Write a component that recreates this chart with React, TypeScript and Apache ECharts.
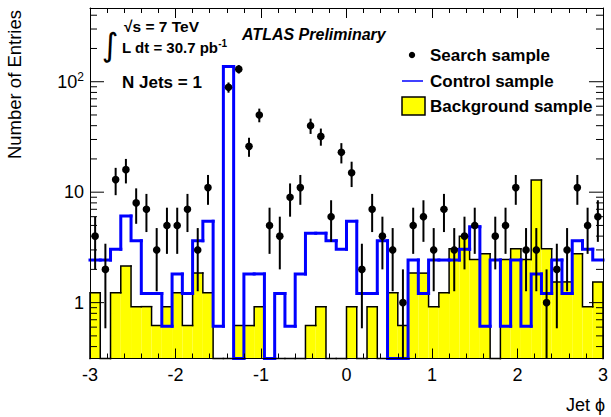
import React, { useEffect, useRef } from 'react';
import * as echarts from 'echarts';

const X_MIN = -3;
const X_MAX = 3;
const BIN_WIDTH = 0.12;
const Y_MIN = 0.312;
const Y_MAX = 465;

// Search sample: entries per bin (points with sqrt(N) error bars)
const searchCounts = [4, 2, 13, 16, 8, 7, 3, 5, 5, 7, 3, 11, 0, 89, 130, 26, 50, 5, 4, 9, 11, 40, 32, 6, 23, 15, 2, 7, 4, 3, 1, 5, 6, 3, 7, 3, 4, 5, 0, 4, 5, 11, 3, 3, 1, 2, 3, 11, 5, 6];
// Control sample (blue line)
const controlSample = [2.43, 2.43, 3.04, 6.07, 3.64, 1.21, 1.21, 0.61, 1.82, 1.21, 3.64, 5.46, 0.61, 137, 0, 1.82, 1.82, 0, 1.21, 0.61, 1.82, 4.25, 4.25, 3.64, 3.04, 5.46, 1.21, 1.21, 3.64, 0, 0, 2.43, 1.21, 2.43, 2.43, 2.43, 3.04, 4.86, 0.61, 2.43, 0.61, 2.43, 0.61, 1.82, 1.21, 2.43, 1.21, 3.64, 3.04, 2.43];
// Background sample (yellow filled)
const backgroundSample = [1.23, 0, 1.23, 2.15, 0.92, 0.92, 0.62, 0.92, 1.23, 0.62, 1.85, 1.23, 0, 0, 0.62, 0.62, 0.92, 0, 0, 0, 0, 0.62, 0.92, 0, 0, 0.92, 0, 0.92, 0, 1.23, 0.62, 1.85, 1.85, 0.92, 1.23, 3.08, 4.0, 2.46, 2.77, 0, 2.46, 3.08, 2.46, 12.9, 3.08, 1.54, 1.54, 2.77, 0.92, 1.54];

const yMajorTicks = [1, 10, 100];
const yMinorTicks = [0.4, 0.5, 0.6, 0.7, 0.8, 0.9, 2, 3, 4, 5, 6, 7, 8, 9, 20, 30, 40, 50, 60, 70, 80, 90, 200, 300, 400];

const FONT = '"Liberation Sans", Arial, Helvetica, sans-serif';

const binLo = (i: number) => X_MIN + i * BIN_WIDTH;
const binCenter = (i: number) => X_MIN + (i + 0.5) * BIN_WIDTH;

function stepRenderer(values: number[], color: string, width: number, withEdges: boolean) {
  return (params: any, api: any) => {
    const i = params.dataIndex;
    const lo = binLo(i);
    const hi = lo + BIN_WIDTH;
    const base = api.coord([lo, Y_MIN]);
    const yb = base[1];
    const xlo = base[0];
    const xhi = api.coord([hi, Y_MIN])[0];
    const yOf = (v: number) => (v > Y_MIN ? api.coord([lo, v])[1] : yb);
    const y = yOf(values[i]);
    const pts: number[][] = [];
    if (i > 0) pts.push([xlo, yOf(values[i - 1])]);
    else if (withEdges) pts.push([xlo, yb]);
    pts.push([xlo, y], [xhi, y]);
    if (i === values.length - 1 && withEdges) pts.push([xhi, yb]);
    return {
      type: 'polyline',
      shape: { points: pts },
      style: { stroke: color, lineWidth: width, fill: 'none', lineCap: 'square', lineJoin: 'miter' },
    };
  };
}

export default function App() {
  const ref = useRef<HTMLDivElement>(null);
  useEffect(() => {
    const chart = echarts.init(ref.current!, null, { renderer: 'svg' });
    const axisLineStyle = { color: '#000', width: 1 };
    const option: any = {
      animation: false,
      backgroundColor: '#fff',
      grid: { left: 90, right: 6, top: 8, bottom: 58.5, containLabel: false },
      xAxis: [
        {
          type: 'value', min: X_MIN, max: X_MAX, interval: 1, position: 'bottom',
          axisLine: { show: true, onZero: false, lineStyle: axisLineStyle },
          axisTick: { show: true, inside: true, length: 10, lineStyle: axisLineStyle },
          minorTick: { show: true, splitNumber: 5, length: 5, lineStyle: axisLineStyle },
          splitLine: { show: false },
          axisLabel: { show: true, color: '#000', fontSize: 18, fontFamily: FONT, margin: 7, formatter: (v: number) => String(Math.round(v)) },
          z: 5,
        },
        {
          type: 'value', min: X_MIN, max: X_MAX, interval: 1, position: 'top',
          axisLine: { show: true, onZero: false, lineStyle: axisLineStyle },
          axisTick: { show: true, inside: true, length: 10, lineStyle: axisLineStyle },
          minorTick: { show: true, splitNumber: 5, length: 5, lineStyle: axisLineStyle },
          splitLine: { show: false },
          axisLabel: { show: false },
          z: 5,
        },
      ],
      yAxis: [
        {
          type: 'log', logBase: 10, min: Y_MIN, max: Y_MAX, position: 'left',
          axisLine: { show: true, onZero: false, lineStyle: axisLineStyle },
          axisTick: { show: false },
          splitLine: { show: false },
          axisLabel: {
            show: true, color: '#000', fontSize: 18, fontFamily: FONT, margin: 6,
            formatter: (v: number) => {
              const l = Math.log10(v);
              const e = Math.round(l);
              if (Math.abs(l - e) > 1e-6) return '';
              if (e === 0) return '1';
              if (e === 1) return '10';
              return `{b|10}{s|${e}}`;
            },
            rich: {
              b: { fontSize: 18, fontFamily: FONT, color: '#000', lineHeight: 22 },
              s: { fontSize: 12, fontFamily: FONT, color: '#000', lineHeight: 12, verticalAlign: 'top' },
            },
          },
          z: 5,
        },
        {
          type: 'log', logBase: 10, min: Y_MIN, max: Y_MAX, position: 'right',
          axisLine: { show: true, onZero: false, lineStyle: axisLineStyle },
          axisTick: { show: false }, splitLine: { show: false }, axisLabel: { show: false },
          z: 5,
        },
      ],
      series: [
        {
          name: 'Background sample', type: 'custom', coordinateSystem: 'cartesian2d', z: 1, silent: true,
          data: backgroundSample.map((v, i) => [binCenter(i), Math.max(v, Y_MIN)]),
          renderItem: (params: any, api: any) => {
            const i = params.dataIndex;
            const v = backgroundSample[i];
            if (!(v > Y_MIN)) return { type: 'group', children: [] };
            const p1 = api.coord([binLo(i), v]);
            const p2 = api.coord([binLo(i) + BIN_WIDTH, Y_MIN]);
            return {
              type: 'rect',
              shape: { x: p1[0], y: p1[1], width: p2[0] - p1[0], height: p2[1] - p1[1] },
              style: { fill: '#ffff00', stroke: 'none' },
            };
          },
        },
        {
          name: 'Background outline', type: 'custom', coordinateSystem: 'cartesian2d', z: 2, silent: true,
          data: backgroundSample.map((v, i) => [binCenter(i), Math.max(v, Y_MIN)]),
          renderItem: stepRenderer(backgroundSample, '#000', 1.5, true),
        },
        {
          name: 'Control sample', type: 'custom', coordinateSystem: 'cartesian2d', z: 3, silent: true,
          data: controlSample.map((v, i) => [binCenter(i), Math.max(v, Y_MIN)]),
          renderItem: stepRenderer(controlSample, '#0000ff', 3, false),
        },
        {
          name: 'Search sample', type: 'custom', coordinateSystem: 'cartesian2d', z: 4, silent: true,
          data: searchCounts.map((v, i) => [binCenter(i), Math.max(v, Y_MIN)]),
          renderItem: (params: any, api: any) => {
            const i = params.dataIndex;
            const n = searchCounts[i];
            if (!(n > 0)) return { type: 'group', children: [] };
            const c = binCenter(i);
            const err = Math.sqrt(n);
            const p = api.coord([c, n]);
            const pTop = api.coord([c, n + err]);
            const yb = api.coord([c, Y_MIN])[1];
            const lowVal = n - err;
            const yLow = lowVal > Y_MIN ? api.coord([c, lowVal])[1] : yb;
            return {
              type: 'group',
              children: [
                { type: 'line', shape: { x1: p[0], y1: pTop[1], x2: p[0], y2: yLow }, style: { stroke: '#000', lineWidth: 2 } },
                { type: 'circle', shape: { cx: p[0], cy: p[1], r: 3.8 }, style: { fill: '#000', stroke: 'none' } },
              ],
            };
          },
        },
        {
          name: 'y ticks', type: 'custom', coordinateSystem: 'cartesian2d', z: 6, silent: true,
          data: [...yMajorTicks, ...yMinorTicks].map((v) => [X_MIN, v]),
          renderItem: (params: any, api: any) => {
            const v = api.value(1);
            const pl = api.coord([X_MIN, v]);
            const pr = api.coord([X_MAX, v]);
            const len = yMajorTicks.indexOf(v) >= 0 ? 14 : 7;
            const st = { stroke: '#000', lineWidth: 1 };
            return {
              type: 'group',
              children: [
                { type: 'line', shape: { x1: pl[0], y1: pl[1], x2: pl[0] + len, y2: pl[1] }, style: st },
                { type: 'line', shape: { x1: pr[0], y1: pr[1], x2: pr[0] - len, y2: pr[1] }, style: st },
              ],
            };
          },
        },
      ],
      graphic: [
        { type: 'text', x: 14, y: 10, rotation: Math.PI / 2, style: { text: 'Number of Entries', fontSize: 18.5, fontFamily: FONT, fill: '#000', align: 'right', verticalAlign: 'middle' } },
        { type: 'text', x: 605, y: 405, style: { text: 'Jet \u03D5', fontSize: 18, fontFamily: FONT, fill: '#000', align: 'right', verticalAlign: 'middle' } },
        { type: 'text', x: 110, y: 45, style: { text: '\u222B', fontSize: 32, fontFamily: '"DejaVu Sans", sans-serif', fill: '#000', align: 'center', verticalAlign: 'middle' } },
        { type: 'text', x: 124, y: 26, style: { text: '\u221As = 7 TeV', fontSize: 15.5, fontWeight: 'bold', fontFamily: FONT, fill: '#000', align: 'left', verticalAlign: 'middle' } },
        {
          type: 'text', x: 122, y: 47,
          style: {
            text: '{a|L dt = 30.7 pb}{s|-1}', align: 'left', verticalAlign: 'middle',
            rich: {
              a: { fontSize: 15, fontWeight: 'bold', fontFamily: FONT, fill: '#000', color: '#000', lineHeight: 18 },
              s: { fontSize: 10, fontWeight: 'bold', fontFamily: FONT, fill: '#000', color: '#000', lineHeight: 10, verticalAlign: 'top' },
            },
          },
        },
        { type: 'text', x: 242, y: 34, style: { text: 'ATLAS Preliminary', fontSize: 16, fontWeight: 'bold', fontStyle: 'italic', fontFamily: FONT, fill: '#000', align: 'left', verticalAlign: 'middle' } },
        { type: 'text', x: 122, y: 82, style: { text: 'N Jets = 1', fontSize: 17, fontWeight: 'bold', fontFamily: FONT, fill: '#000', align: 'left', verticalAlign: 'middle' } },
        { type: 'circle', shape: { cx: 412, cy: 55, r: 3.2 }, style: { fill: '#000' } },
        { type: 'text', x: 430, y: 55, style: { text: 'Search sample', fontSize: 17, fontWeight: 'bold', fontFamily: FONT, fill: '#000', align: 'left', verticalAlign: 'middle' } },
        { type: 'line', shape: { x1: 402, y1: 81, x2: 423, y2: 81 }, style: { stroke: '#0000ff', lineWidth: 1.5 } },
        { type: 'text', x: 430, y: 81, style: { text: 'Control sample', fontSize: 17, fontWeight: 'bold', fontFamily: FONT, fill: '#000', align: 'left', verticalAlign: 'middle' } },
        { type: 'rect', shape: { x: 402, y: 97, width: 23, height: 18 }, style: { fill: '#ffff00', stroke: '#000', lineWidth: 1.5 } },
        { type: 'text', x: 430, y: 106, style: { text: 'Background sample', fontSize: 17, fontWeight: 'bold', fontFamily: FONT, fill: '#000', align: 'left', verticalAlign: 'middle' } },
      ],
    };
    chart.setOption(option);
    return () => chart.dispose();
  }, []);
  return <div ref={ref} style={{ position: 'fixed', left: 0, top: 0, width: 611, height: 417, background: '#fff' }} />;
}
